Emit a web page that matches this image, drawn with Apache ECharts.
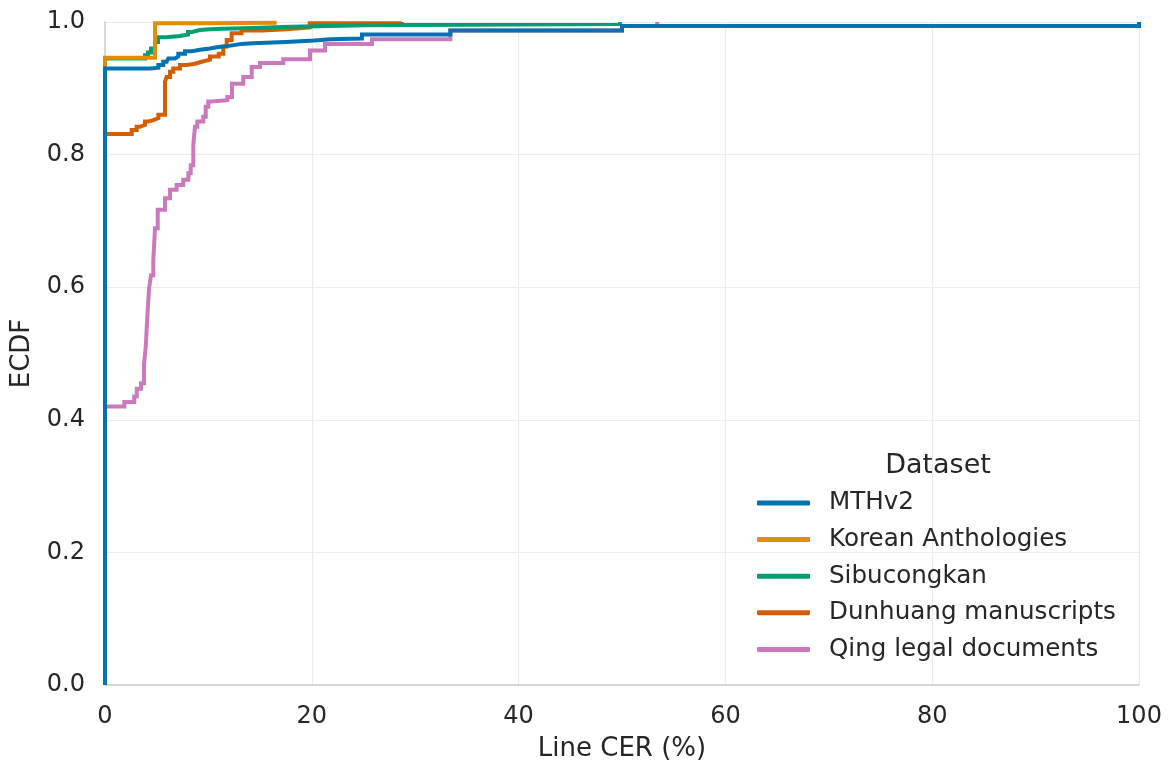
<!DOCTYPE html>
<html>
<head>
<meta charset="utf-8">
<script src="https://cdn.jsdelivr.net/npm/echarts@6/dist/echarts.min.js"></script>
<style>html,body{margin:0;padding:0;background:#fff;}#chart{width:1173px;height:767px;}</style>
</head>
<body>
<div id="chart"></div>
<script>
// Series names (legend order)
const seriesNames = ['MTHv2', 'Korean Anthologies', 'Sibucongkan', 'Dunhuang manuscripts', 'Qing legal documents'];
const seriesColors = ['#0173B2', '#DE8F05', '#029E73', '#D55E00', '#CC78BC'];
const xTicks = [0, 20, 40, 60, 80, 100];
const yTicks = [0.0, 0.2, 0.4, 0.6, 0.8, 1.0];

// ECDF step points [Line CER (%), ECDF]
const mthv2 = [[0,0],[0,0.930],[4.35,0.931],[5.16,0.935],[5.64,0.940],[5.96,0.943],[6.12,0.945],[6.77,0.948],[7.09,0.952],[7.74,0.956],[8.38,0.958],[9.19,0.960],[10.15,0.962],[10.8,0.964],[12.0,0.967],[13.2,0.968],[14.3,0.970],[17.5,0.972],[20.2,0.974],[21.8,0.975],[24.85,0.981],[33.4,0.987],[50.0,0.994],[100,1.0]];
const korean = [[0,0],[0,0.946],[4.84,0.998],[10.0,0.999],[16.6,1.0]];
const sibucongkan = [[0,0],[0,0.945],[3.87,0.950],[4.16,0.954],[4.45,0.960],[4.84,0.970],[5.13,0.977],[5.9,0.979],[7.25,0.981],[8.03,0.985],[8.4,0.988],[9.19,0.989],[10.15,0.990],[11.4,0.991],[14.3,0.993],[17.9,0.994],[21.8,0.995],[24.95,0.997],[49.8,1.0]];
const dunhuang = [[0,0],[0,0.831],[2.58,0.837],[3.06,0.842],[3.38,0.845],[3.87,0.850],[4.19,0.852],[4.67,0.855],[5.16,0.860],[5.80,0.910],[5.96,0.917],[6.29,0.925],[6.6,0.930],[7.25,0.935],[7.9,0.937],[8.7,0.940],[9.35,0.943],[10.15,0.948],[11.0,0.952],[11.44,0.963],[11.77,0.973],[12.25,0.983],[13.2,0.987],[15.15,0.989],[17.6,0.992],[19.8,0.998],[28.7,1.0]];
const qing = [[0,0],[0,0.420],[1.87,0.427],[2.83,0.435],[3.07,0.447],[3.48,0.455],[3.77,0.483],[3.94,0.510],[4.09,0.555],[4.26,0.598],[4.45,0.618],[4.67,0.641],[4.84,0.689],[5.10,0.717],[5.80,0.734],[6.29,0.747],[6.93,0.754],[7.57,0.762],[8.06,0.772],[8.29,0.784],[8.54,0.814],[8.70,0.842],[8.93,0.850],[9.51,0.857],[9.74,0.872],[9.99,0.880],[10.32,0.882],[11.83,0.887],[12.28,0.907],[13.37,0.917],[14.19,0.932],[14.99,0.938],[17.24,0.944],[19.83,0.957],[21.28,0.967],[25.82,0.974],[33.4,0.987],[50.0,0.994],[53.4,1.0]];

const seriesData = [mthv2, korean, sibucongkan, dunhuang, qing];

const FONT = 'DejaVu Sans';
const TXT = '#262626';

// draw in reverse order so MTHv2 is on top
const series = [];
for (let i = seriesNames.length - 1; i >= 0; i--) {
  series.push({
    name: seriesNames[i],
    type: 'line',
    step: 'end',
    data: seriesData[i],
    showSymbol: false,
    symbol: 'none',
    clip: true,
    color: seriesColors[i],
    lineStyle: { width: 4, color: seriesColors[i], cap: 'butt', join: 'miter' },
    emphasis: { disabled: true }
  });
}

const chart = echarts.init(document.getElementById('chart'), null, { renderer: 'canvas' });
chart.setOption({
  animation: false,
  backgroundColor: '#fff',
  grid: { left: 105, right: 34, top: 22, bottom: 82, containLabel: false },
  xAxis: {
    type: 'value', min: xTicks[0], max: xTicks[xTicks.length - 1], interval: 20,
    name: 'Line CER (%)', nameLocation: 'middle', nameGap: 51,
    nameTextStyle: { fontFamily: FONT, fontSize: 26, color: TXT },
    axisLine: { show: true, lineStyle: { color: '#cccccc', width: 1.5 } },
    axisTick: { show: false },
    axisLabel: { fontFamily: FONT, fontSize: 24, color: TXT, margin: 20 },
    splitLine: { show: true, lineStyle: { color: '#ebebeb', width: 1.2 } }
  },
  yAxis: {
    type: 'value', min: yTicks[0], max: yTicks[yTicks.length - 1], interval: 0.2,
    name: 'ECDF', nameLocation: 'middle', nameGap: 70, nameRotate: 90,
    nameTextStyle: { fontFamily: FONT, fontSize: 26, color: TXT },
    axisLine: { show: true, lineStyle: { color: '#cccccc', width: 1.5 } },
    axisTick: { show: false },
    axisLabel: { fontFamily: FONT, fontSize: 24, color: TXT, margin: 20, formatter: v => v.toFixed(1) },
    splitLine: { show: true, lineStyle: { color: '#ebebeb', width: 1.2 } }
  },
  legend: {
    data: seriesNames,
    orient: 'vertical',
    left: 757, top: 489, padding: 0,
    itemWidth: 53, itemHeight: 5, itemGap: 8.6,
    icon: 'roundRect',
    textStyle: { fontFamily: FONT, fontSize: 24.6, color: TXT, lineHeight: 28, padding: [0, 0, 0, 14] },
    selectedMode: false
  },
  graphic: [{
    type: 'text', x: 938, y: 466,
    style: { text: 'Dataset', font: '27px "DejaVu Sans"', fill: TXT, align: 'center', verticalAlign: 'middle' }
  }],
  series: series
});
</script>
</body>
</html>
